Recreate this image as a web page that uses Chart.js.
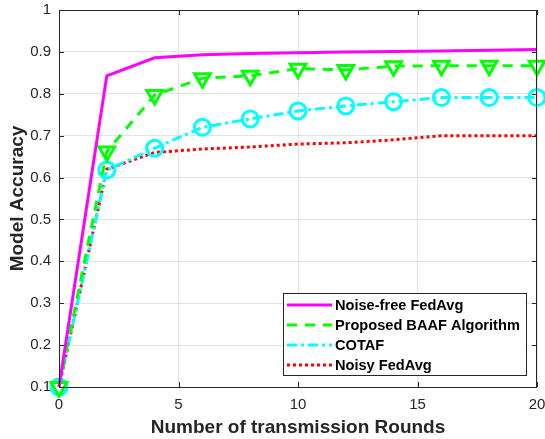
<!DOCTYPE html>
<html>
<head>
<meta charset="utf-8">
<script src="https://cdn.jsdelivr.net/npm/chart.js@4/dist/chart.umd.min.js"></script>
<style>
  html, body { margin: 0; padding: 0; background: #fff; }
  #wrap { width: 545px; height: 439px; }
</style>
</head>
<body>
<div id="wrap"><canvas id="chart" width="545" height="439"></canvas></div>
<script>
const rounds = [0, 2, 4, 6, 8, 10, 12, 14, 16, 18, 20];
const noiseFree = [0.1, 0.843, 0.886, 0.893, 0.896, 0.898, 0.9, 0.901, 0.902, 0.904, 0.906];
const proposed = [0.1, 0.662, 0.797, 0.837, 0.843, 0.86, 0.857, 0.866, 0.867, 0.867, 0.867];
const cotaf = [0.1, 0.618, 0.67, 0.72, 0.74, 0.759, 0.771, 0.781, 0.791, 0.791, 0.791];
const noisy = [0.1, 0.62, 0.66, 0.668, 0.673, 0.68, 0.683, 0.69, 0.7, 0.7, 0.7];

const xTicks = [0, 5, 10, 15, 20];
const yTicks = [0.1, 0.2, 0.3, 0.4, 0.5, 0.6, 0.7, 0.8, 0.9, 1];

const FONT = "Liberation Sans, Arial, Helvetica, sans-serif";
const TEXT = "#262626";

// markers hang over the axes like in MATLAB, so don't let them shrink the plot area
Chart.LineController.prototype.getMaxOverflow = () => 0;

function series(label, values, color, dash, point, rotation) {
  return {
    label,
    data: rounds.map((x, i) => ({ x, y: values[i] })),
    borderColor: color,
    backgroundColor: color,
    borderWidth: 3,
    borderDash: dash,
    borderCapStyle: "butt",
    tension: 0,
    pointStyle: point || false,
    pointRotation: rotation || 0,
    pointRadius: point ? (point === "circle" ? 8 : 9) : 0,
    pointBorderWidth: 3,
    pointBorderColor: color,
    pointBackgroundColor: "rgba(0,0,0,0)",
    clip: false
  };
}

// frame with inward tick marks on all four sides, plus legend in the lower right
const framePlugin = {
  id: "frame",
  afterDraw(chart) {
    const { ctx, chartArea: a, scales } = chart;
    ctx.save();
    ctx.strokeStyle = TEXT;
    ctx.lineWidth = 1;
    ctx.strokeRect(a.left + 0.5, a.top + 0.5, a.right - a.left - 1, a.bottom - a.top);
    ctx.beginPath();
    xTicks.forEach(v => {
      const px = Math.round(scales.x.getPixelForValue(v)) + 0.5;
      ctx.moveTo(px, a.bottom); ctx.lineTo(px, a.bottom - 5);
      ctx.moveTo(px, a.top); ctx.lineTo(px, a.top + 5);
    });
    yTicks.forEach(v => {
      const py = Math.round(scales.y.getPixelForValue(v)) + 0.5;
      ctx.moveTo(a.left, py); ctx.lineTo(a.left + 5, py);
      ctx.moveTo(a.right, py); ctx.lineTo(a.right - 5, py);
    });
    ctx.stroke();

    // legend box
    const box = { x: 283.5, y: 293.5, w: 243, h: 82 };
    ctx.fillStyle = "#fff";
    ctx.fillRect(box.x, box.y, box.w, box.h);
    ctx.strokeStyle = TEXT;
    ctx.strokeRect(box.x, box.y, box.w, box.h);
    ctx.font = "bold 14.6px " + FONT;
    ctx.textBaseline = "middle";
    ctx.fillStyle = "#000";
    chart.data.datasets.forEach((ds, i) => {
      const y = 305 + i * 20;
      ctx.save();
      ctx.strokeStyle = ds.borderColor;
      ctx.lineWidth = 3;
      ctx.setLineDash(ds.borderDash || []);
      ctx.beginPath();
      ctx.moveTo(287, y);
      ctx.lineTo(332, y);
      ctx.stroke();
      ctx.restore();
      ctx.fillText(ds.label, 335, y + 1);
    });
    ctx.restore();
  }
};

new Chart(document.getElementById("chart"), {
  type: "line",
  data: {
    datasets: [
      series("Noise-free FedAvg", noiseFree, "#ff00ff", []),
      series("Proposed BAAF Algorithm", proposed, "#00ff00", [10, 8], "triangle", 180),
      series("COTAF", cotaf, "#00ffff", [10, 4, 3, 4], "circle"),
      series("Noisy FedAvg", noisy, "#ff0000", [3, 3])
    ]
  },
  options: {
    responsive: false,
    animation: false,
    layout: { padding: { top: 10, right: 8, left: 0, bottom: 0 } },
    plugins: { legend: { display: false }, tooltip: { enabled: false } },
    scales: {
      x: {
        type: "linear",
        min: 0, max: 20,
        afterBuildTicks: s => { s.ticks = xTicks.map(v => ({ value: v })); },
        afterFit: s => { s.height = 52; s.paddingLeft = 0; s.paddingRight = 0; },
        border: { display: false },
        grid: { color: "#e3e3e3", drawTicks: false },
        ticks: { padding: 9, color: TEXT, font: { family: FONT, size: 15 }, maxRotation: 0 },
        title: { display: true, text: "Number of transmission Rounds", color: TEXT,
                 font: { family: FONT, size: 19, weight: "bold" }, padding: { top: 0, bottom: 0 } }
      },
      y: {
        min: 0.1, max: 1,
        afterBuildTicks: s => { s.ticks = yTicks.map(v => ({ value: v })); },
        afterFit: s => { s.width = 59; s.paddingTop = 0; s.paddingBottom = 0; },
        border: { display: false },
        grid: { color: "#e3e3e3", drawTicks: false },
        ticks: { padding: 8, color: TEXT, font: { family: FONT, size: 15 },
                 callback: v => String(Math.round(v * 10) / 10) },
        title: { display: true, text: "Model Accuracy", color: TEXT,
                 font: { family: FONT, size: 19, weight: "bold" }, padding: { top: 6, bottom: 0 } }
      }
    }
  },
  plugins: [framePlugin]
});
</script>
</body>
</html>
